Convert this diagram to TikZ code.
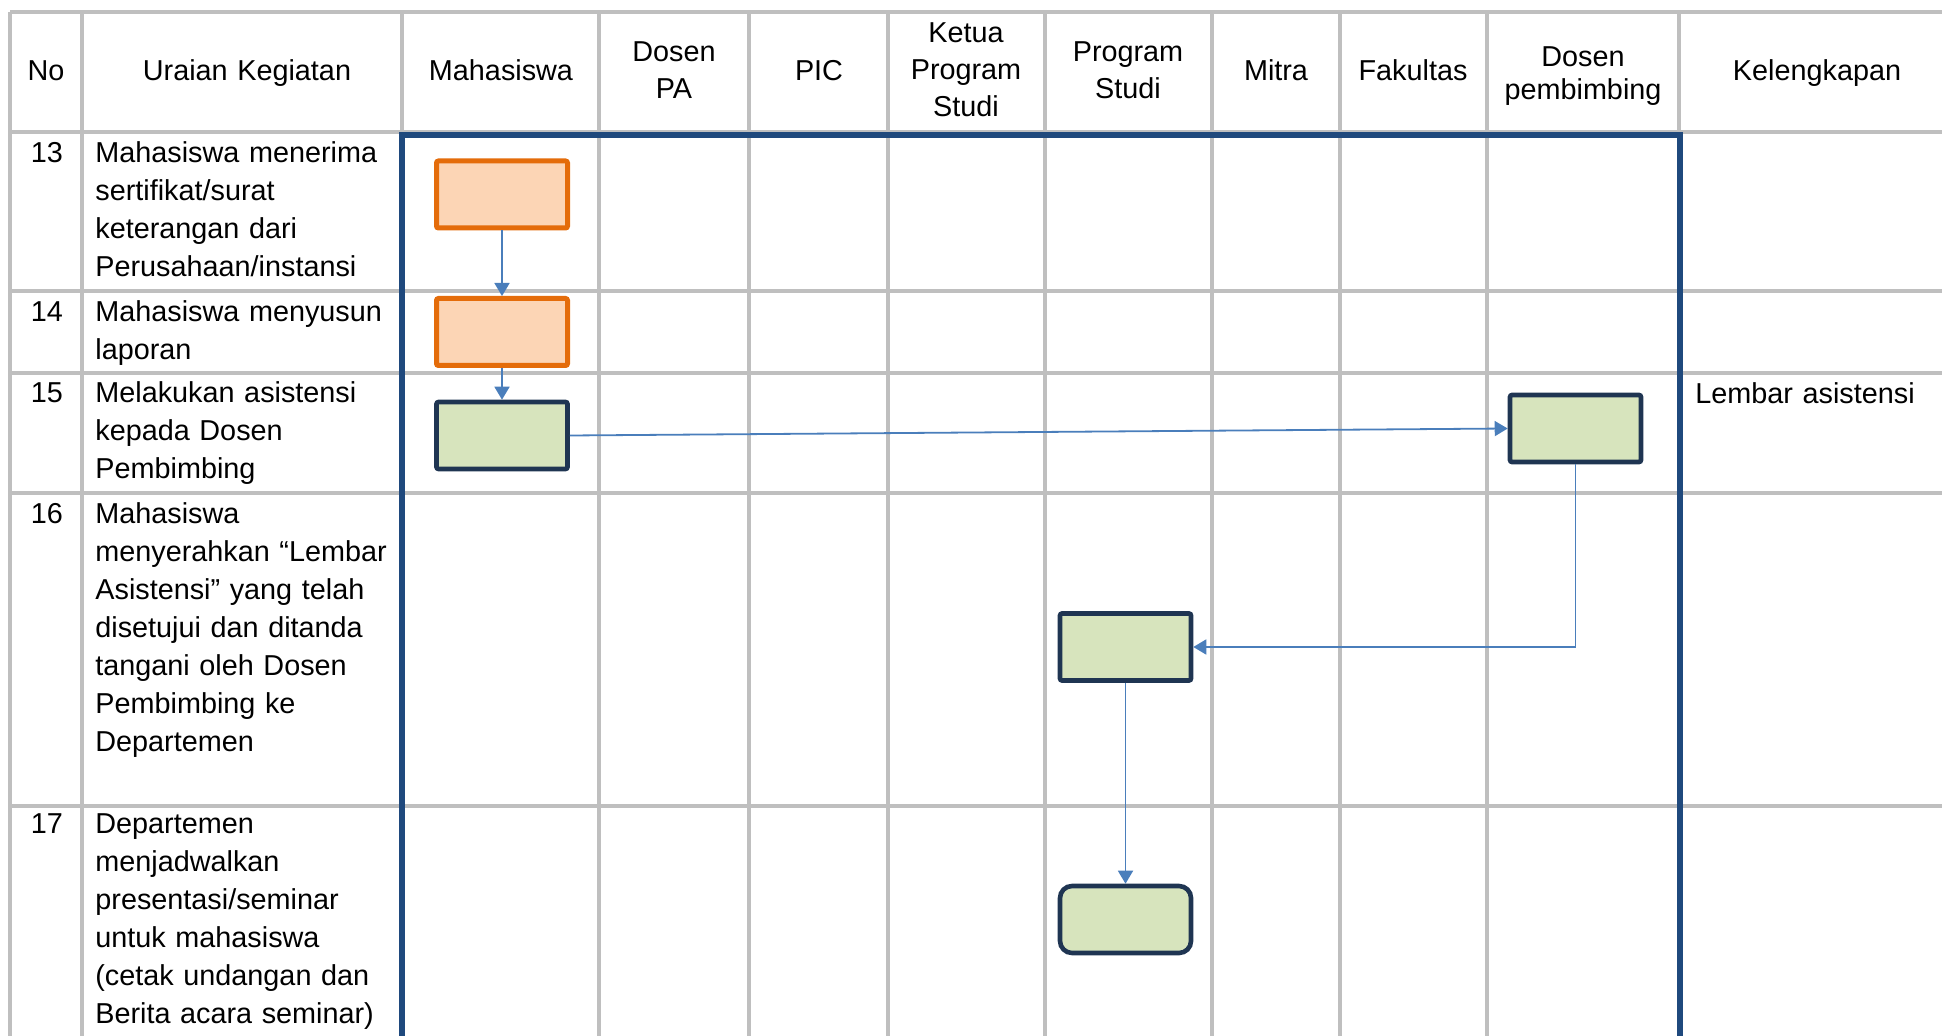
\documentclass[tikz,border=0pt]{standalone}
\usepackage{fontspec}
\setmainfont{Liberation Sans}
\usetikzlibrary{arrows.meta}

\definecolor{gridgray}{HTML}{BFBFBF}
\definecolor{lanebl}{HTML}{1F497D}
\definecolor{flowbl}{HTML}{4A7EBB}
\definecolor{orgline}{HTML}{E46C0A}
\definecolor{orgfill}{HTML}{FCD5B5}
\definecolor{grnfill}{HTML}{D7E4BD}
\definecolor{darkline}{HTML}{1F3552}

\begin{document}
\begin{tikzpicture}[x=0.5pt,y=-0.5pt,
  gridline/.style={gridgray, line width=2.4pt},
  lane/.style={lanebl, line width=2.6pt},
  head/.style={font=\fontsize{14.4pt}{18.5pt}\selectfont, inner sep=0pt, text width=120pt, align=center, anchor=base},
  body/.style={font=\fontsize{14.4pt}{19pt}\selectfont, inner sep=0pt, text width=160pt, align=left, anchor=base west},
  num/.style={font=\fontsize{14.4pt}{19pt}\selectfont, inner sep=0pt, anchor=base},
  orgbox/.style={draw=orgline, fill=orgfill, line width=2.5pt, rounded corners=1pt, minimum width=65.5pt, minimum height=33.5pt, inner sep=0pt},
  grnbox/.style={draw=darkline, fill=grnfill, line width=2.3pt, rounded corners=1pt, minimum width=65.5pt, minimum height=33.5pt, inner sep=0pt},
  flow/.style={flowbl, line width=0.9pt, -{Triangle[width=7.5pt,length=6.5pt]}}]
\useasboundingbox (0,0) rectangle (1942,1036);
% Grid
\foreach \x in {10,82,402,599,749,888,1045,1212,1340,1487,1679}
    \draw[gridline] (\x,12) -- (\x,1036);
\foreach \y in {12,132,291,373,493,806}
    \draw[gridline] (10,\y) -- (1942,\y);
% Header
\foreach \x/\y/\t in {46/81/No, 247/81/Uraian Kegiatan, 501/81/Mahasiswa, 674/62/{Dosen\\PA},
    819/81/PIC, 966/43/{Ketua\\Program\\Studi}, 1128/62/{Program\\Studi}, 1276/81/Mitra,
    1413/81/Fakultas, 1583/67/{Dosen\\[-2pt]pembimbing}, 1817/81/Kelengkapan}
    \node[head] (h\x) at (\x,\y) {\t};
% Rows
\foreach \n/\y/\t in {13/163/{Mahasiswa menerima\\sertifikat/surat\\keterangan dari\\Perusahaan/instansi},
    14/322/{Mahasiswa menyusun\\laporan},
    15/403/{Melakukan asistensi\\kepada Dosen\\Pembimbing},
    16/524/{Mahasiswa\\menyerahkan “Lembar\\Asistensi” yang telah\\disetujui dan ditanda\\tangani oleh Dosen\\Pembimbing ke\\Departemen},
    17/833/{Departemen\\menjadwalkan\\presentasi/seminar\\untuk mahasiswa\\(cetak undangan dan\\Berita acara seminar)}}
{
    \node[num] (no\n) at (47,\y) {\n};
    \node[body] (ket\n) at (95,\y) {\t};
}
\node[body] (kel15) at (1695,404) {Lembar asistensi};
% Swimlane frame
\draw[lane] (402,1036) -- (402,135) -- (1680,135) -- (1680,1036);
% Flow
\node[orgbox] (b13) at (502,194.5) {};
\node[orgbox] (b14) at (502,332) {};
\node[grnbox] (b15) at (502,435.5) {};
\node[grnbox] (b15d) at (1575.5,428.5) {};
\node[grnbox] (b16) at (1125.5,647) {};
\node[grnbox, rounded corners=6pt] (b17) at (1125.5,919.5) {};
\draw[flow] (b13) -- (b14);
\draw[flow] (b14) -- (b15);
\draw[flow] (b15.east) -- (b15d.west);
\draw[flow] (b15d.south) |- (b16.east);
\draw[flow] (b16) -- (b17);
\end{tikzpicture}
\end{document}
